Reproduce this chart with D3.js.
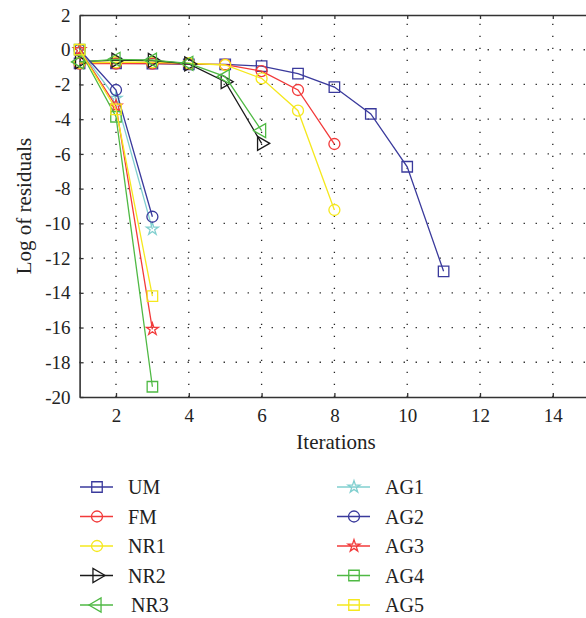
<!DOCTYPE html>
<html>
<head>
<meta charset="utf-8">
<title>Log of residuals</title>
<script src="https://d3js.org/d3.v7.min.js"></script>
<style>
  body { margin: 0; background: #fff; }
  svg text { font-family: "Liberation Serif", "DejaVu Serif", serif; fill: #222; }
</style>
</head>
<body>
<div id="chart"></div>
<script>
// data
var xTicks = [2, 4, 6, 8, 10, 12, 14];
var yTicks = [2, 0, -2, -4, -6, -8, -10, -12, -14, -16, -18, -20];

var umX = [1, 2, 3, 4, 5, 6, 7, 8, 9, 10, 11];
var umY = [-0.78, -0.78, -0.8, -0.84, -0.84, -0.94, -1.38, -2.15, -3.7, -6.74, -12.76];
var fmX = [1, 2, 3, 4, 5, 6, 7, 8];
var fmY = [-0.8, -0.8, -0.8, -0.82, -0.86, -1.23, -2.32, -5.43];
var nr1X = [1, 2, 3, 4, 5, 6, 7, 8];
var nr1Y = [-0.75, -0.72, -0.72, -0.78, -0.88, -1.65, -3.51, -9.23];
var nr2X = [1, 2, 3, 4, 5, 6];
var nr2Y = [-0.68, -0.6, -0.62, -0.82, -1.84, -5.39];
var nr3X = [1, 2, 3, 4, 5, 6];
var nr3Y = [-0.7, -0.55, -0.6, -0.78, -1.55, -4.66];
var agX = [1, 2, 3];
var ag1Y = [0, -2.8, -10.33];
var ag2Y = [0, -2.32, -9.62];
var ag3Y = [0, -3.24, -16.1];
var ag4Y = [0, -3.86, -19.41];
var ag5Y = [0, -3.43, -14.19];

var series = [
  { name: "UM",  xs: umX,  ys: umY,  color: "#3a3a9c", sym: "square" },
  { name: "FM",  xs: fmX,  ys: fmY,  color: "#f23a3a", sym: "circle" },
  { name: "NR1", xs: nr1X, ys: nr1Y, color: "#f5e81e", sym: "circle" },
  { name: "NR2", xs: nr2X, ys: nr2Y, color: "#1a1a1a", sym: "triright" },
  { name: "NR3", xs: nr3X, ys: nr3Y, color: "#4fb944", sym: "trileft" },
  { name: "AG1", xs: agX,  ys: ag1Y, color: "#80cfcf", sym: "star" },
  { name: "AG2", xs: agX,  ys: ag2Y, color: "#3a3a9c", sym: "circle" },
  { name: "AG3", xs: agX,  ys: ag3Y, color: "#f23a3a", sym: "star" },
  { name: "AG4", xs: agX,  ys: ag4Y, color: "#4fb944", sym: "square" },
  { name: "AG5", xs: agX,  ys: ag5Y, color: "#f5e81e", sym: "square" }
];

var width = 586, height = 618;
var pLeft = 79.6, pRight = 589.2, pTop = 15, pBottom = 397;
var serif = '"Liberation Serif", "Times New Roman", serif';

var svg = d3.select("#chart").append("svg")
  .attr("width", width).attr("height", height);

var x = d3.scaleLinear().domain([1, 15]).range([pLeft, pRight]);
var y = d3.scaleLinear().domain([-20, 2]).range([pBottom, pTop]);

// dotted grid
var grid = svg.append("g").attr("stroke", "#222").attr("stroke-width", 1.3)
  .attr("stroke-dasharray", "1.3,10.7");
grid.selectAll(".gx").data(xTicks).enter().append("line")
  .attr("x1", d => x(d)).attr("x2", d => x(d))
  .attr("y1", pBottom).attr("y2", pTop);
grid.selectAll(".gy").data(yTicks.slice(1, -1)).enter().append("line")
  .attr("x1", pLeft).attr("x2", pRight)
  .attr("y1", d => y(d)).attr("y2", d => y(d));

// axes
var fmt = function(d) { return String(d); };
var xAxis = d3.axisBottom(x).tickValues(xTicks).tickFormat(fmt).tickSizeInner(-4).tickSizeOuter(0).tickPadding(12);
var xTop = d3.axisTop(x).tickValues(xTicks).tickSizeInner(-4).tickSizeOuter(0).tickFormat("");
var yAxis = d3.axisLeft(y).tickValues(yTicks).tickFormat(fmt).tickSizeInner(-4).tickSizeOuter(0).tickPadding(9);

var gx = svg.append("g").attr("transform", "translate(0," + pBottom + ")").call(xAxis);
var gt = svg.append("g").attr("transform", "translate(0," + pTop + ")").call(xTop);
var gy = svg.append("g").attr("transform", "translate(" + pLeft + ",0)").call(yAxis);
[gx, gt, gy].forEach(function(g) {
  g.attr("font-family", null).attr("font-size", null);
  g.select(".domain").attr("stroke", "#333").attr("stroke-width", 1.6);
  g.selectAll(".tick line").attr("stroke", "#333").attr("stroke-width", 1.3);
  g.selectAll("text").attr("fill", "#222")
    .style("font-family", serif).style("font-size", "19px");
});

svg.append("text").attr("x", 336).attr("y", 449)
  .attr("text-anchor", "middle").style("font-family", serif).style("font-size", "21px").text("Iterations");
svg.append("text").attr("transform", "translate(31," + (pTop + pBottom) / 2 + ") rotate(-90)")
  .attr("text-anchor", "middle").style("font-family", serif).style("font-size", "21px").text("Log of residuals");

function symbolPath(sym) {
  if (sym === "square") return d3.symbol(d3.symbolSquare, 110)();
  if (sym === "circle") return d3.symbol(d3.symbolCircle, 95)();
  if (sym === "star") return d3.symbol(d3.symbolStar, 45)();
  return d3.symbol(d3.symbolTriangle, 85)();
}
function symbolRot(sym) {
  if (sym === "triright") return " rotate(90)";
  if (sym === "trileft") return " rotate(-90)";
  return "";
}

var line = d3.line().x(d => x(d[0])).y(d => y(d[1]));

var plot = svg.append("g");
series.forEach(function(s) {
  var pts = s.xs.map(function(v, i) { return [v, s.ys[i]]; });
  plot.append("path").datum(pts).attr("d", line)
    .attr("fill", "none").attr("stroke", s.color).attr("stroke-width", 1.3);
  plot.selectAll(null).data(pts).enter().append("path")
    .attr("d", symbolPath(s.sym))
    .attr("transform", d => "translate(" + x(d[0]) + "," + y(d[1]) + ")" + symbolRot(s.sym))
    .attr("fill", "none").attr("stroke", s.color).attr("stroke-width", 1.3);
});

// legend
var leg = svg.append("g");
series.forEach(function(s, i) {
  var col = i < 5 ? 0 : 1;
  var row = i % 5;
  var lx = col === 0 ? 80 : 337;
  var ly = 487 + row * 29.5;
  leg.append("line").attr("x1", lx).attr("x2", lx + 33).attr("y1", ly).attr("y2", ly)
    .attr("stroke", s.color).attr("stroke-width", 1.3);
  leg.append("path").attr("d", symbolPath(s.sym))
    .attr("transform", "translate(" + (lx + 17) + "," + ly + ")" + symbolRot(s.sym))
    .attr("fill", "none").attr("stroke", s.color).attr("stroke-width", 1.3);
  leg.append("text").attr("x", lx + 48 + (s.name === "NR3" ? 3 : 0)).attr("y", ly + 7)
    .style("font-family", serif).style("font-size", "20px").text(s.name);
});
</script>
</body>
</html>
